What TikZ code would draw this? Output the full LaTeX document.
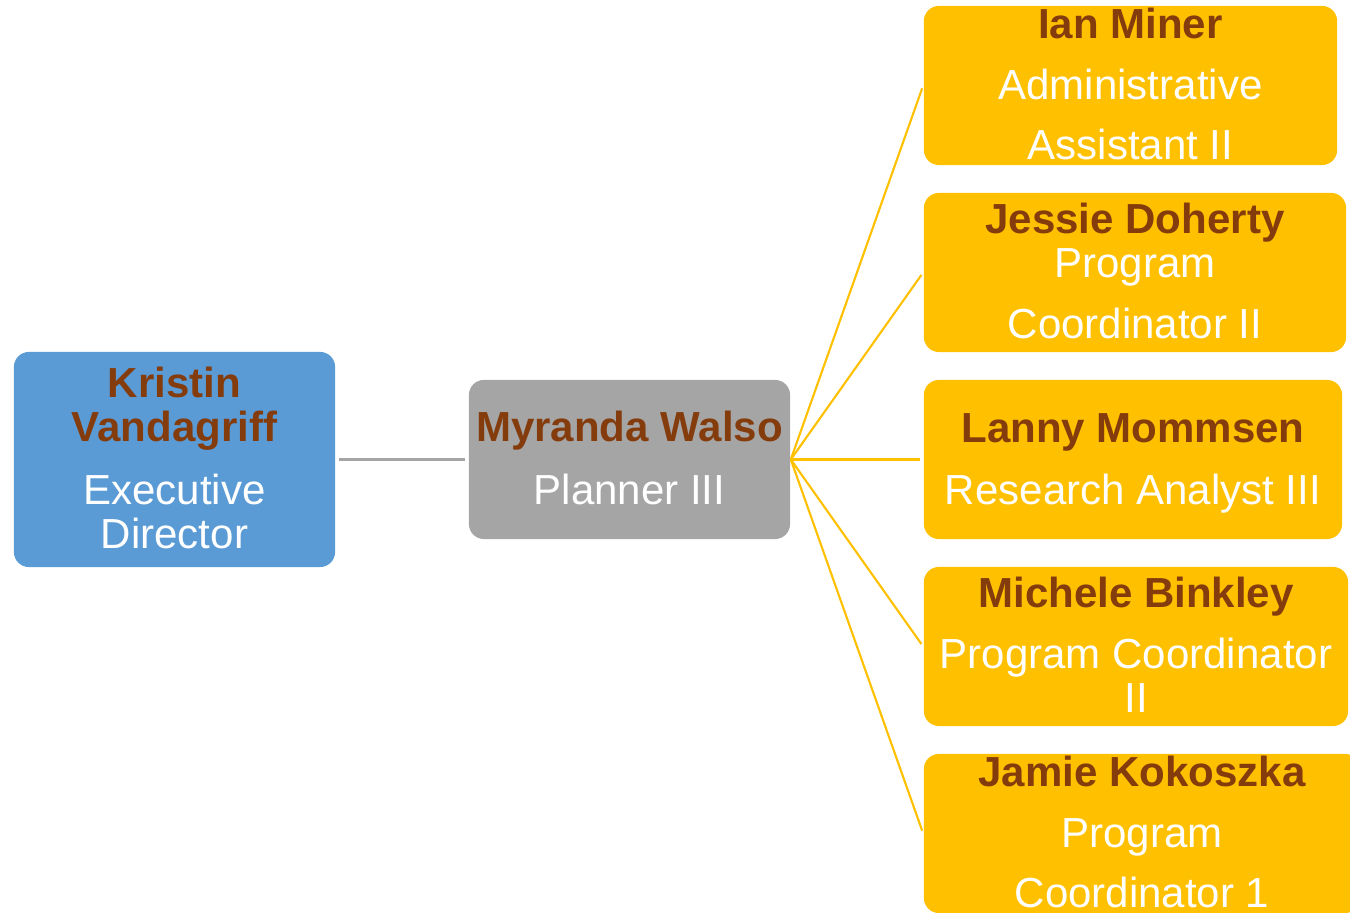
\documentclass[tikz,border=0pt]{standalone}
\usepackage{fontspec}
\setmainfont{Liberation Sans}
\usepackage{xcolor}
\usetikzlibrary{positioning}
\definecolor{boxblue}{HTML}{5B9BD5}
\definecolor{boxgray}{HTML}{A5A5A5}
\definecolor{boxgold}{HTML}{FFC000}
\definecolor{namebrown}{HTML}{843C0C}
\newcommand{\who}[1]{{\bfseries\color{namebrown}#1}}

\begin{document}
\begin{tikzpicture}[x=0.01cm, y=-0.01cm,
		card/.style={
			rounded corners=0.15cm,
			inner sep=0pt,
			minimum width=#1,
			minimum height=1.59cm,
		},
		words/.style={text=white, align=center, anchor=base, inner sep=0pt,
			font=\fontsize{11.95}{12.52}\selectfont},
		graylink/.style={draw=boxgray, line width=0.6pt, shorten <=0.03cm, shorten >=0.03cm},
		goldlink/.style={draw=boxgold, line width=0.6pt, shorten >=0.03cm}]
		\useasboundingbox (0,0) rectangle (1350,913);
		
		\node[card=3.21cm, fill=boxblue, minimum height=2.15cm] (dir) at (174.5,459.5) {};
		\node[card=3.21cm, fill=boxgray] (plan) at (629.5,459.5) {};
		\node[card=4.13cm, fill=boxgold] (ian) at (1130.5,85.5) {};
		\node[card=4.22cm, fill=boxgold] (jessie) at (1135,272.5) {};
		\node[card=4.18cm, fill=boxgold] (lanny) at (1133,459.5) {};
		\node[card=4.24cm, fill=boxgold] (michele) at (1136,646.5) {};
		\node[card=4.36cm, fill=boxgold] (jamie) at (1142,833.5) {};
		
		% text anchored at the baseline of its last line
		\node[words] (dir-txt) at (174.5,549) {\who{Kristin}\\\who{Vandagriff}\\[0.19cm]Executive\\Director};
		\node[words] (plan-txt) at (629.5,505) {\who{Myranda Walso}\\[0.19cm]Planner III};
		\node[words] (ian-txt) at (1130.5,160) {\who{Ian Miner}\\[0.17cm]Administrative\\[0.16cm]Assistant II};
		\node[words] (jessie-txt) at (1135,339) {\who{Jessie Doherty}\\Program\\[0.17cm]Coordinator II};
		\node[words] (lanny-txt) at (1133,505) {\who{Lanny Mommsen}\\[0.18cm]Research Analyst III};
		\node[words] (michele-txt) at (1136,713) {\who{Michele Binkley}\\[0.17cm]Program Coordinator\\II};
		\node[words] (jamie-txt) at (1142,908) {\who{Jamie Kokoszka}\\[0.17cm]Program\\[0.16cm]Coordinator 1};
		
		\draw[graylink] (dir) -- (plan);
		\draw[goldlink] (plan.east) -- (ian.west);
		\draw[goldlink] (plan.east) -- (jessie.west);
		\draw[goldlink] (plan.east) -- (lanny.west);
		\draw[goldlink] (plan.east) -- (michele.west);
		\draw[goldlink] (plan.east) -- (jamie.west);
	\end{tikzpicture}
\end{document}
